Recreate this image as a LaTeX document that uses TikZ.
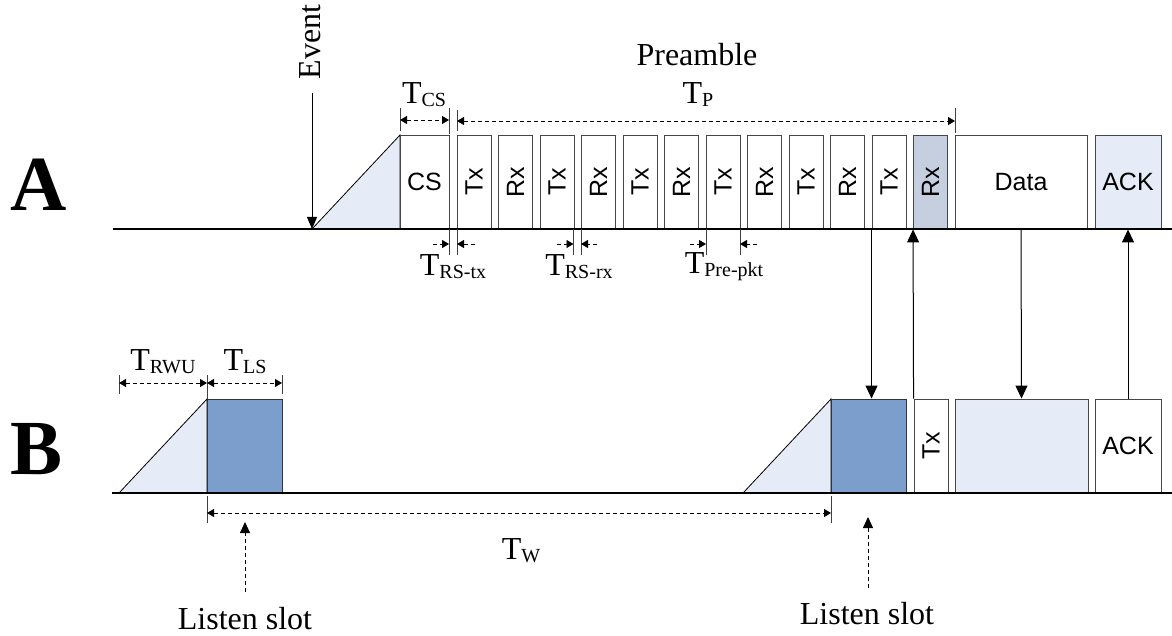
\documentclass[tikz,border=0pt]{standalone}
\usepackage{fontspec}
\usepackage{graphicx}
\setmainfont{Liberation Serif}
\setsansfont{Liberation Sans}
\usetikzlibrary{arrows.meta}
\definecolor{lightfill}{RGB}{230,236,247}
\definecolor{rxfill}{RGB}{197,207,224}
\definecolor{slotfill}{RGB}{124,158,204}
\definecolor{boxline}{RGB}{70,70,70}
\newcommand\Tlab[1]{T\raisebox{-3pt}{\fontsize{20}{20}\selectfont #1}}
\begin{document}
\begin{tikzpicture}[x=1pt,y=-1pt,
  slotbox/.style={draw=boxline, line width=0.9pt, inner sep=0pt, minimum height=94pt,
    font=\sffamily\fontsize{25}{25}\selectfont},
  dimline/.style={dash pattern=on 4pt off 3pt, line width=0.9pt},
  dimtip/.style={arrows={-Triangle[length=7pt,width=8pt]}},
  dimboth/.style={arrows={Triangle[length=7pt,width=8pt]-Triangle[length=7pt,width=8pt]}},
  tickline/.style={draw=black!75, line width=0.9pt},
  bigtip/.style={arrows={-Triangle[length=13pt,width=12pt]}, line width=1pt},
  axisline/.style={line width=2pt},
  ramp/.style={fill=lightfill, draw=black, line width=0.8pt},
  tlabel/.style={inner sep=0pt, font=\fontsize{32}{32}\selectfont},
  txtlabel/.style={inner sep=0pt, font=\fontsize{32}{32}\selectfont},
  rowlabel/.style={inner sep=0pt, font=\fontsize{78}{78}\selectfont\bfseries}]
\useasboundingbox (0,0) rectangle (1172,636);

% row labels
\node[rowlabel] (labA) at (39,185) {A};
\node[rowlabel] (labB) at (37,449) {B};

% ===== Row A =====
\draw[ramp] (312,229) -- (400,135) -- (400,229) -- cycle;
\node[slotbox, minimum width=49pt] (cs) at (424.5,182) {CS};
\foreach \i in {0,...,11}{
  \pgfmathsetmacro\cx{474+41.5*\i}
  \ifodd\i
    \ifnum\i=11
      \node[slotbox, minimum width=34pt, fill=rxfill] (a\i) at (\cx,182) {\rotatebox{90}{Rx}};
    \else
      \node[slotbox, minimum width=34pt] (a\i) at (\cx,182) {\rotatebox{90}{Rx}};
    \fi
  \else
    \node[slotbox, minimum width=34pt] (a\i) at (\cx,182) {\rotatebox{90}{Tx}};
  \fi
}
\node[slotbox, minimum width=132pt] (adata) at (1021,182) {Data};
\node[slotbox, minimum width=66pt, fill=lightfill] (aack) at (1128,182) {ACK};
\draw[axisline] (113,229) -- (1172,229);

% Event
\node[txtlabel, rotate=90] (event) at (310,42) {Event};
\coordinate (evtop) at (312,93);
\coordinate (evbot) at (312,229);
\draw[arrows={-Triangle[length=12pt,width=10pt]}, line width=1pt] (evtop) -- (evbot);

% T_CS and T_P
\draw[tickline] (400,108) -- (400,131);
\draw[tickline] (449,108) -- (449,134);
\draw[tickline] (457,110) -- (457,131);
\draw[tickline] (955,108) -- (955,133);
\coordinate (tcsl) at (400,120);
\coordinate (tcsr) at (449,120);
\coordinate (tpl) at (457,121);
\coordinate (tpr) at (955,121);
\draw[dimline, dimboth] (tcsl) -- (tcsr);
\draw[dimline, dimboth] (tpl) -- (tpr);
\node[tlabel] (tcs) at (424,95) {\Tlab{CS}};
\node[txtlabel] (pre) at (697,55) {Preamble};
\node[tlabel] (tp) at (698,95) {\Tlab{P}};

% T_RS-tx, T_RS-rx, T_Pre-pkt
\foreach \x in {449,457,573.5,581,706,740}{
  \draw[tickline] (\x,229) -- (\x,255);
}
\draw[dimline, dimtip] (433,244) -- (449,244);
\draw[dimline, dimtip] (475,244) -- (457,244);
\draw[dimline, dimtip] (557,244) -- (573.5,244);
\draw[dimline, dimtip] (597,244) -- (581,244);
\draw[dimline, dimtip] (690,244) -- (706,244);
\draw[dimline, dimtip] (757,244) -- (740,244);
\node[tlabel] (trstx) at (453,267) {\Tlab{RS-tx}};
\node[tlabel] (trsrx) at (579,267) {\Tlab{RS-rx}};
\node[tlabel] (tpre) at (724,267) {\Tlab{Pre-pkt}};

% ===== Row B =====
\draw[ramp] (119,493) -- (207,399) -- (207,493) -- cycle;
\draw[ramp] (743,493) -- (831,399) -- (831,493) -- cycle;
\node[slotbox, minimum width=75pt, fill=slotfill, draw=black!80] (bls1) at (244.5,446) {};
\node[slotbox, minimum width=75pt, fill=slotfill, draw=black!80] (bls2) at (868.5,446) {};
\node[slotbox, minimum width=34pt] (btx) at (931,446) {\rotatebox{90}{Tx}};
\node[slotbox, minimum width=133pt, fill=lightfill] (bdata) at (1021.5,446) {};
\node[slotbox, minimum width=66pt] (back) at (1128,446) {ACK};
\draw[axisline] (112,493) -- (1172,493);

% T_RWU, T_LS
\draw[tickline] (119,375) -- (119,394);
\draw[tickline] (207,375) -- (207,399);
\draw[tickline] (282,375) -- (282,394);
\coordinate (rwul) at (119,383);
\coordinate (rwur) at (207,383);
\coordinate (lsr) at (282,383);
\draw[dimline, dimboth] (rwul) -- (rwur);
\draw[dimline, dimboth] (rwur) -- (lsr);
\node[tlabel] (trwu) at (163,362) {\Tlab{RWU}};
\node[tlabel] (tls) at (245,362) {\Tlab{LS}};

% T_W
\draw[tickline] (207,496) -- (207,523);
\draw[tickline] (831,496) -- (831,523);
\coordinate (twl) at (207,513);
\coordinate (twr) at (831,513);
\draw[dimline, dimboth] (twl) -- (twr);
\node[tlabel] (tw) at (521,551) {\Tlab{W}};

% Listen slots
\coordinate (ls1b) at (245,592);
\coordinate (ls1t) at (245,522);
\coordinate (ls2b) at (868,588);
\coordinate (ls2t) at (868,517);
\draw[dimline, arrows={-Triangle[length=11pt,width=10pt]}] (ls1b) -- (ls1t);
\draw[dimline, arrows={-Triangle[length=11pt,width=10pt]}] (ls2b) -- (ls2t);
\node[txtlabel] (lsl1) at (245,619) {Listen slot};
\node[txtlabel] (lsl2) at (867,614) {Listen slot};

% connectors between rows
\draw[bigtip] (a10.south west) -- (bls2.north -| a10.south west);
\draw[bigtip] (btx.north west) -- (a11.south west);
\draw[bigtip] (adata.south) -- (bdata.north);
\draw[bigtip] (back.north) -- (aack.south);
\end{tikzpicture}
\end{document}
